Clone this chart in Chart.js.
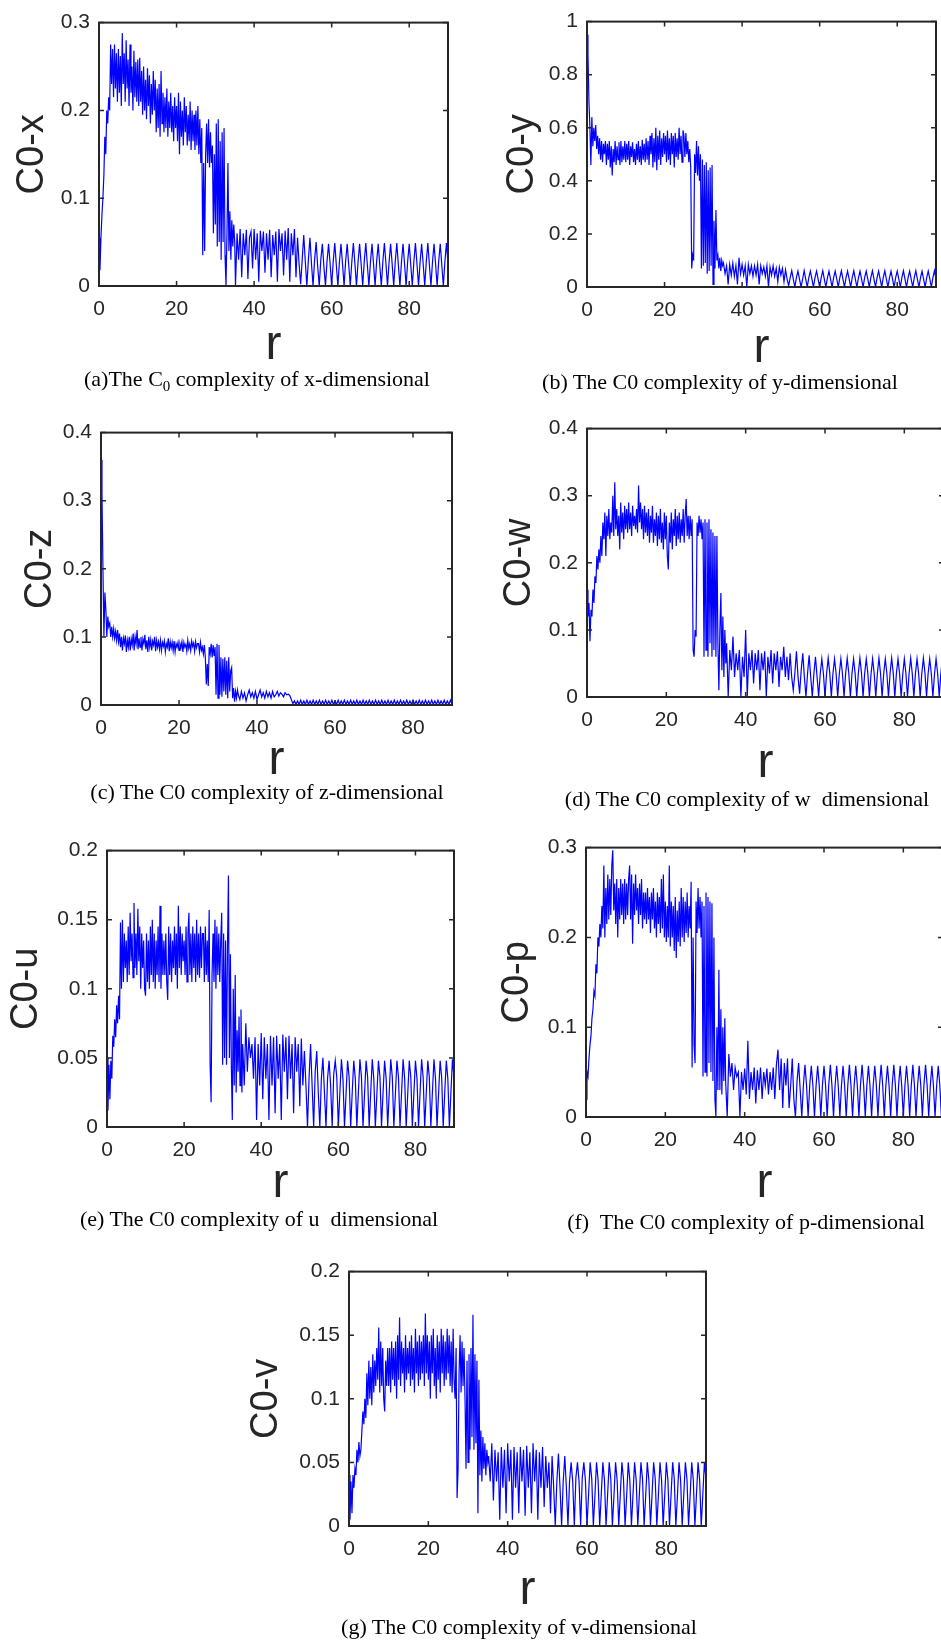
<!DOCTYPE html>
<html>
<head>
<meta charset="utf-8">
<script src="https://cdn.jsdelivr.net/npm/chart.js@4.4.0/dist/chart.umd.min.js"></script>
<style>
html, body { margin: 0; padding: 0; background: #fff; overflow: hidden; }
body { position: relative; width: 941px; height: 1641px; }
.cap {
    position: absolute;
    font-family: "Liberation Serif", "Times New Roman", serif;
    font-size: 22px;
    line-height: 26px;
    color: #000;
    white-space: nowrap;
    transform: translateX(-50%);
}
.cap .sub { font-size: 15px; position: relative; top: 5px; }
</style>
</head>
<body>
<script>
// sampling of r: dense part 0..35 step 0.25, periodic tail 35.2..90 step 0.4
const NOISY_STEP = 0.25;
const TAIL_START = 35.2;
const TAIL_STEP = 0.4;

const xTicks = [0, 20, 40, 60, 80];
const yTicks03 = [0, 0.1, 0.2, 0.3];
const yTicks1 = [0, 0.2, 0.4, 0.6, 0.8, 1];
const yTicks04 = [0, 0.1, 0.2, 0.3, 0.4];
const yTicks02 = [0, 0.05, 0.1, 0.15, 0.2];

// (a) C0-x
const c0xNoisy = [
    .055,.018,.055,.08,.1,.125,.17,.15,.2,.185,.215,.2,.275,.23,.27,.215,.275,.225,.265,.21,
    .27,.22,.262,.205,.288,.23,.265,.21,.28,.225,.258,.205,.275,.22,.25,.2,.268,.215,.255,.21,
    .258,.205,.26,.21,.245,.195,.25,.2,.235,.19,.248,.205,.24,.185,.23,.195,.245,.2,.235,.175,
    .225,.18,.23,.17,.245,.185,.22,.175,.215,.18,.225,.17,.21,.18,.22,.175,.205,.165,.215,.18,
    .205,.165,.22,.15,.21,.17,.2,.16,.215,.175,.205,.16,.195,.165,.21,.155,.2,.165,.195,.155,
    .2,.16,.205,.15,.19,.14,.18,.035,.14,.04,.15,.185,.14,.19,.135,.175,.14,.16,.06,.15,
    .07,.185,.045,.19,.05,.165,.03,.175,.05,.18,.035,0,.06,.14,.04,.085,.03,.075,.045,.07,
    .05
];
const c0xTail = [
    0,.06,.03,.065,.01,.06,.035,.064,.008,.055,.062,.02,.065,.03,.06,.005,.063,.04,.062,.015,
    .06,.03,.064,.01,.058,.035,.062,.005,.065,.04,.06,.012,.063,.03,.066,.005,.06,.035,.065,.01,
    .055,.025,.002,.03,.058,.028,0,.03,.055,.025,0,.03,.05,.022,0,.03,.048,.022,0,.028,
    .048,.025,0,.028,.049,.024,0,.027,.048,.025,0,.028,.048,.024,0,.028,.049,.025,0,.027,
    .048,.025,0,.028,.049,.024,0,.027,.048,.025,0,.028,.048,.024,0,.028,.049,.025,0,.027,
    .048,.025,0,.028,.049,.024,0,.027,.048,.025,0,.028,.048,.024,0,.028,.049,.025,0,.027,
    .048,.025,0,.028,.049,.024,0,.027,.048,.025,0,.028,.048,.024,0,.028,.049,.025
];

// (b) C0-y
const c0yNoisy = [
    .95,.88,.7,.6,.46,.64,.53,.6,.55,.61,.52,.57,.5,.56,.48,.55,.47,.54,.5,.55,
    .46,.54,.48,.55,.45,.53,.42,.52,.47,.55,.46,.53,.48,.545,.46,.55,.47,.53,.48,.55,
    .47,.54,.48,.55,.46,.53,.49,.545,.47,.52,.46,.54,.48,.55,.47,.53,.46,.555,.48,.54,
    .47,.56,.48,.55,.46,.57,.5,.58,.45,.56,.47,.6,.44,.57,.48,.59,.46,.56,.49,.58,
    .5,.57,.47,.59,.48,.56,.46,.58,.5,.57,.45,.58,.49,.56,.48,.6,.5,.57,.47,.59,
    .57,.49,.58,.5,.55,.47,.52,.45,.07,.12,.1,.5,.43,.55,.42,.53,.4,.5,.07,.48,
    .08,.46,.09,.47,.05,.44,.06,.45,.08,.46,.01,.25,.07,.29,.1,.12,.07,.11,.06,.1,
    .08
];
const c0yTail = [
    .09,.05,.08,.01,.085,.045,.09,.04,.08,.01,.11,.05,.085,.045,.08,0,.085,.05,.08,.04,
    .08,.045,.085,.01,.08,.05,.075,.04,.08,0,.075,.045,.08,.04,.07,.02,.075,.045,.07,.02,
    .065,.03,.005,.035,.062,.03,0,.035,.06,.03,0,.03,.062,.03,0,.035,.06,.03,0,.035,
    .06,.03,0,.035,.061,.03,0,.034,.06,.03,0,.035,.06,.031,0,.035,.061,.03,0,.035,
    .06,.03,0,.035,.061,.03,0,.034,.06,.03,0,.035,.06,.031,0,.035,.061,.03,0,.035,
    .06,.03,0,.035,.061,.03,0,.034,.06,.03,0,.035,.06,.031,0,.035,.061,.03,0,.035,
    .06,.03,0,.035,.061,.03,0,.034,.06,.03,0,.035,.06,.031,0,.035,.061,.03
];

// (c) C0-z
const c0zNoisy = [
    .36,.31,.2,.1,.165,.14,.1,.13,.115,.12,.1,.115,.1,.112,.098,.108,.095,.11,.093,.105,
    .085,.1,.08,.098,.09,.102,.078,.095,.085,.1,.08,.097,.088,.105,.08,.1,.09,.11,.082,.098,
    .085,.1,.08,.097,.09,.103,.082,.095,.078,.1,.085,.096,.08,.094,.088,.1,.079,.095,.085,.093,
    .082,.095,.08,.092,.086,.094,.078,.09,.085,.098,.079,.093,.084,.092,.08,.094,.078,.09,.085,.092,
    .08,.09,.084,.093,.078,.092,.085,.089,.079,.095,.083,.09,.08,.094,.086,.091,.079,.093,.084,.09,
    .09,.078,.092,.08,.085,.075,.088,.07,.03,.06,.028,.085,.075,.09,.07,.088,.072,.085,.015,.09,
    .01,.088,.015,.07,.012,.068,.02,.07,.015,.065,.01,.07,.02,.05,.055,.01,.025,.005,.02,.01,
    .022
];
const c0zTail = [
    .015,.008,.02,.01,.018,.006,.015,.022,.012,.018,.01,.02,.008,.015,.022,.012,.018,.01,.02,.012,
    .018,.01,.02,.012,.015,.02,.013,.018,.016,.012,.018,.015,.016,.014,.008,.002,.006,.001,.006,.001,
    .007,.001,.006,.001,.007,.001,.006,.001,.007,.001,.006,.001,.007,.001,.006,.001,.007,.001,.006,.001,
    .007,.001,.006,.001,.007,.001,.006,.001,.007,.001,.006,.001,.007,.001,.006,.001,.007,.001,.006,.001,
    .007,.001,.006,.001,.007,.001,.006,.001,.007,.001,.006,.001,.007,.001,.006,.001,.007,.001,.006,.001,
    .007,.001,.006,.001,.007,.001,.006,.001,.007,.001,.006,.001,.007,.001,.006,.001,.007,.001,.006,.001,
    .007,.001,.006,.001,.007,.001,.006,.001,.007,.001,.006,.001,.007,.001,.006,.001,.007,.001
];

// (d) C0-w
const c0wNoisy = [
    .16,.12,.14,.083,.13,.12,.16,.14,.18,.17,.21,.19,.22,.2,.24,.21,.26,.235,.275,.21,
    .27,.24,.28,.235,.26,.245,.3,.24,.32,.25,.28,.24,.27,.22,.29,.245,.275,.235,.285,.25,
    .28,.245,.29,.25,.275,.24,.285,.255,.27,.25,.28,.245,.315,.26,.29,.25,.28,.235,.285,.245,
    .275,.24,.28,.23,.27,.245,.285,.23,.265,.24,.275,.225,.27,.235,.28,.23,.26,.22,.275,.235,
    .27,.21,.19,.26,.23,.275,.22,.265,.24,.28,.225,.27,.235,.275,.23,.265,.24,.28,.23,.27,
    .295,.24,.27,.235,.27,.24,.265,.07,.06,.1,.09,.26,.24,.27,.245,.265,.235,.26,.06,.265,
    .07,.26,.06,.265,.08,.25,.06,.245,.07,.24,.06,.24,.08,.01,.1,.155,.04,.12,.03,.1,
    .05
];
const c0wTail = [
    .08,0,.07,.04,.09,.03,.065,.04,.07,0,.06,.03,.1,0,.065,.04,.07,.02,.065,.04,
    .07,.01,.065,.04,.068,0,.06,.035,.07,.02,.065,.04,.068,.015,.06,.04,.075,.03,.06,.025,
    .065,.03,.01,.035,.068,.03,.005,.04,.065,.03,0,.035,.062,.03,0,.035,.06,.03,0,.035,
    .057,.035,0,.035,.058,.036,0,.035,.057,.035,0,.034,.057,.035,0,.035,.058,.035,0,.035,
    .057,.035,0,.035,.058,.036,0,.035,.057,.035,0,.034,.057,.035,0,.035,.058,.035,0,.035,
    .057,.035,0,.035,.058,.036,0,.035,.057,.035,0,.034,.057,.035,0,.035,.058,.035,0,.035,
    .057,.035,0,.035,.058,.036,0,.035,.057,.035,0,.034,.057,.035,0,.035,.058,.035
];

// (e) C0-u
const c0uNoisy = [
    .05,.012,.045,.02,.048,.035,.066,.058,.078,.065,.088,.075,.095,.078,.148,.1,.15,.105,.14,.115,
    .135,.105,.145,.11,.155,.12,.14,.108,.162,.115,.14,.11,.158,.12,.145,.1,.14,.115,.135,.1,
    .095,.14,.105,.135,.1,.145,.11,.15,.105,.14,.1,.135,.11,.145,.105,.16,.1,.14,.11,.135,
    .11,.14,.105,.092,.145,.11,.14,.105,.135,.115,.145,.11,.14,.1,.16,.115,.145,.11,.14,.12,
    .135,.11,.145,.105,.14,.155,.11,.14,.105,.145,.115,.14,.105,.15,.11,.14,.108,.145,.115,.14,
    .14,.105,.145,.11,.135,.105,.157,.045,.018,.11,.14,.105,.15,.1,.145,.11,.14,.105,.135,.155,
    .045,.14,.05,.135,.045,.13,.182,.05,.125,.045,.005,.1,.03,.11,.025,.07,.04,.08,.03,.085,
    .025
];
const c0uTail = [
    .06,.03,.075,.04,.065,.05,.06,.035,.065,.005,.06,.03,.068,.02,.065,.035,.06,.005,.066,.03,
    .065,.01,.066,.035,.06,.005,.067,.04,.065,.02,.066,.035,.06,.01,.065,.04,.06,.015,.064,.03,
    .055,.03,0,.035,.06,.03,0,.04,.055,.025,0,.035,.05,.025,0,.035,.048,.03,0,.038,
    .048,.036,0,.025,.049,.035,0,.024,.048,.036,0,.025,.048,.035,0,.025,.049,.036,0,.024,
    .048,.036,0,.025,.049,.035,0,.024,.048,.036,0,.025,.048,.035,0,.025,.049,.036,0,.024,
    .048,.036,0,.025,.049,.035,0,.024,.048,.036,0,.025,.048,.035,0,.025,.049,.036,0,.024,
    .048,.036,0,.025,.049,.035,0,.024,.048,.036,0,.025,.048,.035,0,.025,.049,.036
];

// (f) C0-p
const c0pNoisy = [
    .02,.05,.045,.065,.08,.09,.11,.12,.14,.135,.17,.16,.2,.19,.215,.2,.235,.21,.28,.2,
    .255,.215,.27,.22,.265,.225,.28,.297,.23,.26,.215,.265,.2,.255,.22,.265,.225,.26,.215,.265,
    .22,.26,.225,.265,.28,.22,.27,.193,.26,.225,.27,.23,.255,.215,.26,.225,.265,.21,.25,.22,
    .25,.215,.255,.22,.245,.205,.25,.22,.255,.21,.24,.2,.25,.215,.245,.205,.265,.21,.27,.2,
    .24,.195,.235,.2,.28,.19,.24,.2,.235,.185,.245,.177,.23,.195,.24,.19,.255,.2,.245,.195,
    .24,.205,.25,.2,.235,.21,.262,.055,.2,.08,.06,.24,.205,.255,.21,.245,.2,.24,.045,.235,
    .05,.25,.045,.245,.06,.24,.05,.238,.04,.2,.02,0,.1,.03,.164,.03,.12,.025,.1,.04,
    .11
];
const c0pTail = [
    .04,0,.07,.045,.06,.03,.055,.045,.05,0,.05,.03,.054,.025,.085,.02,.05,.03,.055,.015,
    .052,.03,.055,.02,.05,.035,.054,.025,.05,.03,.055,.02,.058,.075,.03,.065,.01,.06,.035,.065,
    .01,.035,.065,.02,0,.04,.06,.03,0,.035,.058,.035,0,.035,.057,.035,0,.035,.057,.035,
    0,.035,.057,.035,0,.036,.058,.035,0,.035,.057,.034,0,.035,.057,.035,0,.035,.058,.035,
    0,.035,.057,.035,0,.036,.058,.035,0,.035,.057,.034,0,.035,.057,.035,0,.035,.058,.035,
    0,.035,.057,.035,0,.036,.058,.035,0,.035,.057,.034,0,.035,.057,.035,0,.035,.058,.035,
    0,.035,.057,.035,0,.036,.058,.035,0,.035,.057,.034,0,.035,.057,.035,0,.035
];

// (g) C0-v
const c0vNoisy = [
    .04,.005,.035,.01,.04,.03,.045,.04,.06,.05,.066,.055,.06,.075,.09,.08,.1,.085,.12,.095,
    .13,.1,.125,.095,.135,.105,.13,.11,.14,.115,.156,.105,.145,.11,.14,.1,.09,.13,.11,.14,
    .11,.14,.105,.145,.115,.14,.11,.145,.1,.15,.115,.164,.11,.145,.12,.14,.105,.15,.115,.14,
    .12,.145,.11,.15,.115,.14,.105,.155,.12,.145,.11,.15,.115,.145,.12,.15,.11,.167,.12,.15,
    .115,.145,.1,.15,.12,.155,.11,.14,.1,.15,.115,.145,.105,.155,.12,.15,.11,.145,.115,.155,
    .12,.15,.11,.145,.105,.155,.115,.1,.14,.022,.045,.12,.15,.105,.145,.11,.14,.1,.045,.13,
    .05,.135,.06,.14,.07,.166,.06,.135,.065,.13,.01,.115,.04,.075,.035,.07,.045,.065,.04,.06,
    .05
];
const c0vTail = [
    .055,.035,.065,.02,.06,.035,.058,.005,.062,.03,.06,.01,.065,.035,.06,.005,.062,.03,.058,.01,
    .062,.035,.06,.008,.063,.03,.058,.01,.065,.035,.06,.005,.058,.03,.062,.015,.055,.03,.05,.01,
    .055,.03,0,.035,.057,.03,0,.035,.055,.03,0,.035,.05,.035,0,.038,.05,.035,0,.038,
    .05,.036,0,.025,.05,.037,0,.024,.05,.036,0,.025,.05,.036,0,.025,.05,.037,0,.024,
    .05,.036,0,.025,.05,.037,0,.024,.05,.036,0,.025,.05,.036,0,.025,.05,.037,0,.024,
    .05,.036,0,.025,.05,.037,0,.024,.05,.036,0,.025,.05,.036,0,.025,.05,.037,0,.024,
    .05,.036,0,.025,.05,.037,0,.024,.05,.036,0,.025,.05,.036,0,.025,.05,.037
];

const SANS = '"Liberation Sans", Arial, Helvetica, sans-serif';
const INK = '#262626';

// subplot layout (page pixels): box = [left, top, right, bottom] of the axes
const panels = [
    { yLabel: 'C0-x', yMax: 0.3, yTicks: yTicks03, noisy: c0xNoisy, tail: c0xTail,
      box: [99, 15, 448, 286], yTitleX: 33, xTitleY: 346,
      capX: 257, capY: 380, caption: '(a)The C<span class="sub">0</span> complexity of x-dimensional' },
    { yLabel: 'C0-y', yMax: 1, yTicks: yTicks1, noisy: c0yNoisy, tail: c0yTail,
      box: [587, 14, 936, 287], yTitleX: 523, xTitleY: 349,
      capX: 720, capY: 383, caption: '(b) The C0 complexity of y-dimensional' },
    { yLabel: 'C0-z', yMax: 0.4, yTicks: yTicks04, noisy: c0zNoisy, tail: c0zTail,
      box: [101, 425, 452, 705], yTitleX: 41, xTitleY: 761,
      capX: 267, capY: 793, caption: '(c) The C0 complexity of z-dimensional' },
    { yLabel: 'C0-w', yMax: 0.4, yTicks: yTicks04, noisy: c0wNoisy, tail: c0wTail,
      box: [587, 421, 944, 697], yTitleX: 520, xTitleY: 764,
      capX: 747, capY: 800, caption: '(d) The C0 complexity of w&nbsp; dimensional' },
    { yLabel: 'C0-u', yMax: 0.2, yTicks: yTicks02, noisy: c0uNoisy, tail: c0uTail,
      box: [107, 843, 454, 1127], yTitleX: 27, xTitleY: 1184,
      capX: 259, capY: 1220, caption: '(e) The C0 complexity of u&nbsp; dimensional' },
    { yLabel: 'C0-p', yMax: 0.3, yTicks: yTicks03, noisy: c0pNoisy, tail: c0pTail,
      box: [586, 840, 943, 1117], yTitleX: 518, xTitleY: 1184,
      capX: 746, capY: 1223, caption: '(f)&nbsp; The C0 complexity of p-dimensional' },
    { yLabel: 'C0-v', yMax: 0.2, yTicks: yTicks02, noisy: c0vNoisy, tail: c0vTail,
      box: [349, 1264, 706, 1526], yTitleX: 267, xTitleY: 1591,
      capX: 519, capY: 1628, caption: '(g) The C0 complexity of v-dimensional' }
];

function buildPoints(noisy, tail) {
    const pts = noisy.map((v, i) => ({ x: i * NOISY_STEP, y: v }));
    tail.forEach((v, j) => pts.push({ x: TAIL_START + j * TAIL_STEP, y: v }));
    return pts;
}

// matlab-like box with inward ticks on all four sides
const boxPlugin = {
    id: 'matlabBox',
    afterDatasetsDraw(chart) {
        const { ctx, chartArea: a, scales } = chart;
        const tl = 5;
        ctx.save();
        ctx.strokeStyle = INK;
        ctx.lineWidth = 1.5;
        ctx.beginPath();
        scales.x.ticks.forEach(t => {
            const px = scales.x.getPixelForValue(t.value);
            ctx.moveTo(px, a.bottom); ctx.lineTo(px, a.bottom - tl);
            ctx.moveTo(px, a.top); ctx.lineTo(px, a.top + tl);
        });
        scales.y.ticks.forEach(t => {
            const py = scales.y.getPixelForValue(t.value);
            ctx.moveTo(a.left, py); ctx.lineTo(a.left + tl, py);
            ctx.moveTo(a.right, py); ctx.lineTo(a.right - tl, py);
        });
        ctx.stroke();
        ctx.lineWidth = 2;
        ctx.strokeRect(a.left, a.top, a.right - a.left, a.bottom - a.top);
        ctx.restore();
    }
};

panels.forEach(p => {
    const [l, t, r, b] = p.box;
    const cl = p.yTitleX - 24;
    const ct = t - 14;
    const cr = r + 14;
    const cb = p.xTitleY + 27;

    const canvas = document.createElement('canvas');
    canvas.width = cr - cl;
    canvas.height = cb - ct;
    canvas.style.cssText = `position:absolute;left:${cl}px;top:${ct}px;width:${cr - cl}px;height:${cb - ct}px`;
    document.body.appendChild(canvas);

    new Chart(canvas, {
        type: 'line',
        data: {
            datasets: [{
                data: buildPoints(p.noisy, p.tail),
                borderColor: '#0000ff',
                borderWidth: 1.2,
                pointRadius: 0,
                tension: 0,
                fill: false
            }]
        },
        options: {
            responsive: false,
            animation: false,
            devicePixelRatio: 1,
            layout: { padding: { left: 0, top: t - ct, right: cr - r, bottom: 0 } },
            plugins: { legend: { display: false }, tooltip: { enabled: false } },
            scales: {
                x: {
                    type: 'linear', min: 0, max: 90,
                    grid: { display: false, drawTicks: false, tickLength: 0 },
                    border: { display: false },
                    afterBuildTicks: s => { s.ticks = xTicks.map(v => ({ value: v })); },
                    afterFit: s => { s.height = cb - b; },
                    ticks: { padding: 11, color: INK, font: { family: SANS, size: 21 }, callback: v => `${v}` },
                    title: {
                        display: true, text: 'r', color: INK,
                        font: { family: SANS, size: 48, lineHeight: 1 },
                        padding: { top: 0, bottom: 3 }
                    }
                },
                y: {
                    type: 'linear', min: 0, max: p.yMax,
                    grid: { display: false, drawTicks: false, tickLength: 0 },
                    border: { display: false },
                    afterBuildTicks: s => { s.ticks = p.yTicks.map(v => ({ value: v })); },
                    afterFit: s => { s.width = l - cl; },
                    ticks: { padding: 9, color: INK, font: { family: SANS, size: 21 }, callback: v => `${v}` },
                    title: {
                        display: true, text: p.yLabel, color: INK,
                        font: { family: SANS, size: 38, lineHeight: 1 },
                        padding: { top: 5, bottom: 0 }
                    }
                }
            }
        },
        plugins: [boxPlugin]
    });

    const cap = document.createElement('div');
    cap.className = 'cap';
    cap.innerHTML = p.caption;
    cap.style.left = p.capX + 'px';
    cap.style.top = (p.capY - 14) + 'px';
    document.body.appendChild(cap);
});
</script>
</body>
</html>
